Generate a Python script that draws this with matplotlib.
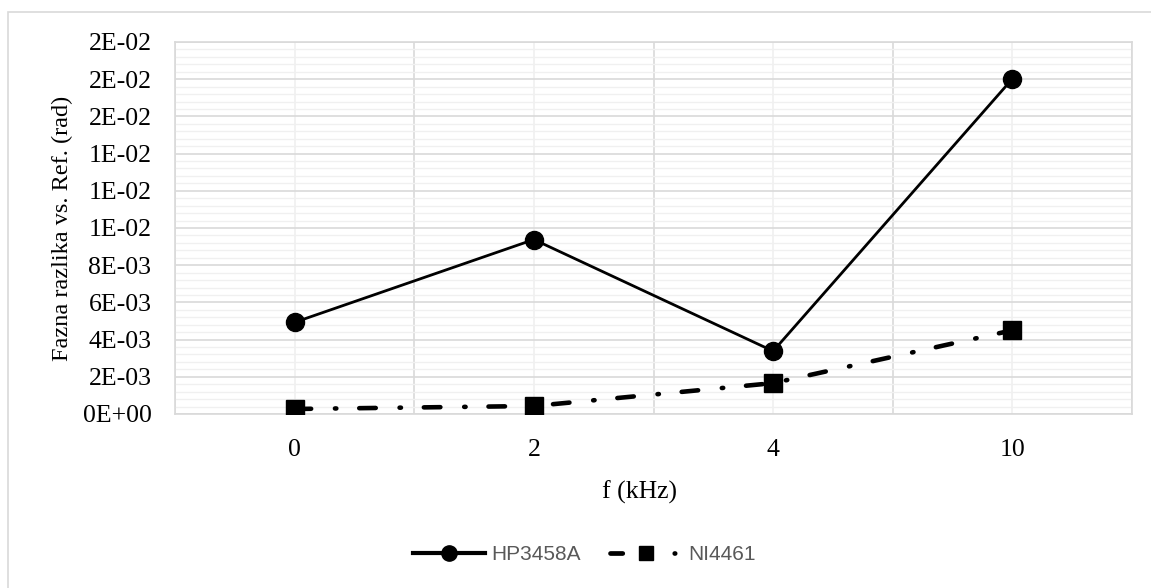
import matplotlib
matplotlib.use("Agg")
import matplotlib.pyplot as plt
from matplotlib.ticker import FuncFormatter, MultipleLocator, FixedLocator
from matplotlib.patches import Rectangle
from matplotlib.lines import Line2D

categories = ["0", "2", "4", "10"]
hp3458a = [0.00493, 0.00938, 0.00338, 0.01802]
ni4461 = [0.00027, 0.00043, 0.00166, 0.00450]
series_names = ["HP3458A", "NI4461"]

W, H = 1151, 588
fig = plt.figure(figsize=(W / 100, H / 100), dpi=100)
fig.patch.set_facecolor("white")
fig.patches.append(Rectangle((8 / W, -0.1), 1.2, 1 - 12 / H + 0.1, transform=fig.transFigure,
                             fill=False, edgecolor="#d9d9d9", linewidth=1.2))

left, right, top, bottom = 175, 1132, 42, 414
ax = fig.add_axes([left / W, 1 - bottom / H, (right - left) / W, (bottom - top) / H])

x = list(range(len(categories)))
serif = "Liberation Serif"

ax.plot(x, hp3458a, color="black", linewidth=2.0, marker="o", markersize=13,
        zorder=3)
ax.plot(x, ni4461, color="black", linewidth=3.3, linestyle=(0, (3.6, 5.2, 0.3, 5.0)),
        dash_capstyle="round", marker="s", markersize=12.5, zorder=3)

ax.set_xlim(-0.5, len(categories) - 0.5)
ax.set_ylim(0, 0.02)
ax.yaxis.set_major_locator(MultipleLocator(0.002))
ax.yaxis.set_minor_locator(MultipleLocator(0.0004))
ax.yaxis.set_major_formatter(FuncFormatter(lambda v, p: f"{v:.0E}"))
ax.xaxis.set_major_locator(FixedLocator(x))
ax.set_xticklabels(categories)
ax.xaxis.set_minor_locator(FixedLocator([i - 0.5 for i in range(len(categories) + 1)]))

ax.grid(which="minor", axis="y", color="#f0f0f0", linewidth=1.0)
ax.grid(which="major", axis="y", color="#d9d9d9", linewidth=1.2)
ax.grid(which="minor", axis="x", color="#d9d9d9", linewidth=1.2)
ax.grid(which="major", axis="x", color="#f0f0f0", linewidth=1.2)
ax.set_axisbelow(True)

for s in ax.spines.values():
    s.set_color("#d9d9d9")
    s.set_linewidth(1.2)

ax.tick_params(which="both", length=0)
ax.tick_params(axis="y", pad=17, labelsize=18.5)
ax.tick_params(axis="x", pad=18, labelsize=18.5)
for lab in ax.get_xticklabels() + ax.get_yticklabels():
    lab.set_fontfamily(serif)
    lab.set_color("black")

fig.text(62 / W, 1 - 228 / H, "Fazna razlika vs. Ref. (rad)", rotation=90, ha="center",
         va="center", fontsize=17.5, family=serif)
fig.text(640 / W, 1 - 492 / H, "f (kHz)", ha="center", va="center", fontsize=18.5, family=serif)

h1 = Line2D([], [], color="black", linewidth=3.0, marker="o", markersize=11)
h2 = Line2D([], [], color="black", linewidth=3.4, linestyle=(0, (2.6, 11.0, 0.1, 20)),
            dash_capstyle="round", marker="s", markersize=10)
leg = fig.legend([h1, h2], series_names, loc="center", bbox_to_anchor=(584 / W, 1 - 555 / H),
                 ncol=2, frameon=False, prop={"family": "Liberation Sans", "size": 15},
                 handlelength=3.46, handletextpad=0.3, columnspacing=1.4)
for t in leg.get_texts():
    t.set_color("#595959")

fig.savefig("out.png", dpi=100)
